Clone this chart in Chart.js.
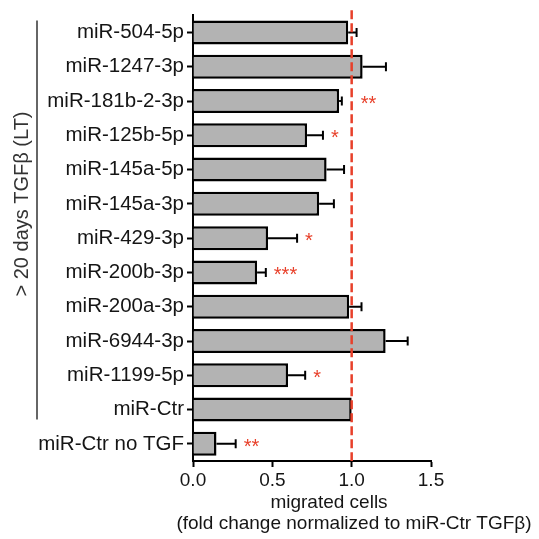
<!DOCTYPE html>
<html>
<head>
<meta charset="utf-8">
<script src="https://cdn.jsdelivr.net/npm/chart.js@4/dist/chart.umd.min.js"></script>
<style>
html,body{margin:0;padding:0;background:#fff;}
#wrap{width:539px;height:539px;position:relative;}
</style>
</head>
<body>
<div id="wrap"><canvas id="c"></canvas></div>
<script>
const categories = ['miR-504-5p','miR-1247-3p','miR-181b-2-3p','miR-125b-5p','miR-145a-5p','miR-145a-3p','miR-429-3p','miR-200b-3p','miR-200a-3p','miR-6944-3p','miR-1199-5p','miR-Ctr','miR-Ctr no TGF'];
const values = [0.978,1.069,0.921,0.719,0.842,0.795,0.473,0.404,0.984,1.214,0.599,1.0,0.148];
const errors = [0.053,0.147,0.017,0.100,0.110,0.093,0.183,0.055,0.078,0.139,0.108,0,0.121];
const stars = ['','','**','*','','','*','***','','','*','','**'];
const xTicks = [0,0.5,1.0,1.5];
const refValue = 1.0;
const groupLabel = '> 20 days TGF\u03B2 (LT)';
const groupFirst = 0, groupLast = 11;
const xTitle = ['migrated cells','(fold change normalized to miR-Ctr TGF\u03B2)'];

const FONT = '"Liberation Sans", Arial, sans-serif';
const RED = '#e8402a';
const TXT = '#151515';

const overlay = {
  id:'overlay',
  afterDatasetsDraw(chart){
    const ctx = chart.ctx, x = chart.scales.x, y = chart.scales.y, ca = chart.chartArea;
    ctx.save();
    // error bars
    ctx.strokeStyle = '#000'; ctx.lineWidth = 2;
    values.forEach((v,i)=>{
      if(!errors[i]) return;
      const yc = y.getPixelForValue(i);
      const x0 = x.getPixelForValue(v), x1 = x.getPixelForValue(v+errors[i]);
      ctx.beginPath(); ctx.moveTo(x0,yc); ctx.lineTo(x1,yc);
      ctx.moveTo(x1,yc-4.5); ctx.lineTo(x1,yc+4.5); ctx.stroke();
    });
    // dashed reference line
    const xr = x.getPixelForValue(refValue);
    ctx.strokeStyle = RED; ctx.lineWidth = 2.5; ctx.setLineDash([9,4]);
    ctx.beginPath(); ctx.moveTo(xr, ca.top-5); ctx.lineTo(xr, ca.bottom); ctx.stroke();
    ctx.setLineDash([]);
    // stars
    ctx.fillStyle = RED; ctx.font = '20px '+FONT; ctx.textAlign='left'; ctx.textBaseline='alphabetic';
    stars.forEach((s,i)=>{
      if(!s) return;
      const yc = y.getPixelForValue(i);
      let sx = x.getPixelForValue(values[i]+errors[i]) + 8;
      const w = ctx.measureText(s).width;
      if (sx < xr + 4 && sx + w > xr - 4) sx = xr + 9;
      ctx.fillText(s, sx, yc + 9);
    });
    // group bracket
    const yTop = y.getPixelForValue(groupFirst) - 12, yBot = y.getPixelForValue(groupLast) + 10;
    ctx.strokeStyle = '#333'; ctx.lineWidth = 1.5;
    ctx.beginPath(); ctx.moveTo(37, yTop); ctx.lineTo(37, yBot); ctx.stroke();
    ctx.fillStyle = '#333'; ctx.font = '20px '+FONT; ctx.textAlign='center'; ctx.textBaseline='middle';
    ctx.translate(22, 204); ctx.rotate(-Math.PI/2); ctx.fillText(groupLabel, 0, 0);
    ctx.restore();
    // x title
    ctx.save();
    ctx.fillStyle = TXT; ctx.font = '19px '+FONT; ctx.textAlign='center'; ctx.textBaseline='middle';
    const cx = (ca.left+ca.right)/2;
    ctx.fillText(xTitle[0], cx+17, ca.bottom+42);
    ctx.fillText(xTitle[1], cx+42, ca.bottom+63);
    ctx.restore();
  }
};

new Chart(document.getElementById('c'), {
  type:'bar',
  data:{ labels:categories, datasets:[{ data:values, backgroundColor:'#b3b3b3', borderColor:'#000', borderWidth:2.5, barPercentage:0.7, categoryPercentage:1 }]},
  options:{
    indexAxis:'y', responsive:true, maintainAspectRatio:false, animation:false,
    layout:{ padding:{ left:0, right:108, top:12, bottom:0 } },
    plugins:{ legend:{display:false}, tooltip:{enabled:false} },
    scales:{
      x:{ type:'linear', min:0, max:1.5,
        afterBuildTicks(s){ s.ticks = xTicks.map(v=>({value:v})); },
        afterFit(s){ s.height = 78; },
        border:{display:true, color:'#000', width:2},
        grid:{ display:true, drawOnChartArea:false, drawTicks:true, tickLength:6, tickWidth:2, tickColor:'#000' },
        ticks:{ color:TXT, font:{family:FONT, size:19}, padding:2, callback:(v)=>Number(v).toFixed(1) }
      },
      y:{ type:'category', offset:true,
        afterFit(s){ s.width = 193; },
        border:{display:true, color:'#000', width:2},
        grid:{ display:true, drawOnChartArea:false, drawTicks:true, tickLength:6, tickWidth:2, tickColor:'#000', offset:false },
        ticks:{ color:TXT, font:{family:FONT, size:20.5}, padding:3, autoSkip:false }
      }
    }
  },
  plugins:[overlay]
});
</script>
</body>
</html>
